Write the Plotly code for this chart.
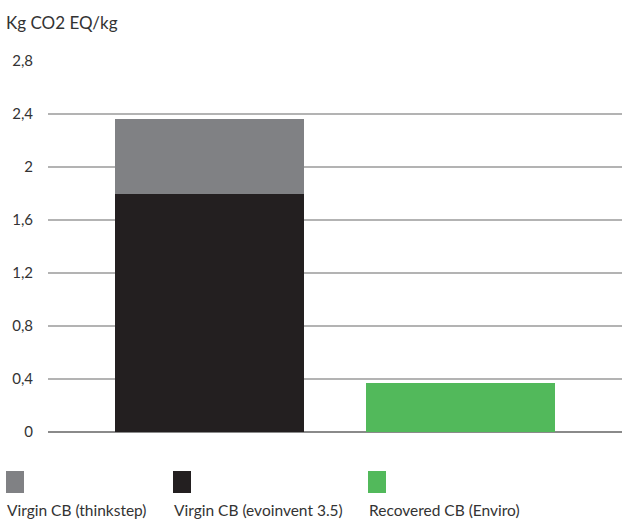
import plotly.graph_objects as go

categories = ["Virgin CB", "Recovered CB"]
series_names = ["Virgin CB (evoinvent 3.5)", "Virgin CB (thinkstep)", "Recovered CB (Enviro)"]
evoinvent = [1.80, None]
thinkstep = [0.562, None]
enviro = [None, 0.37]
colors = {"Virgin CB (thinkstep)": "#808184",
          "Virgin CB (evoinvent 3.5)": "#231f20",
          "Recovered CB (Enviro)": "#52b95b"}
tick_vals = [0, 0.4, 0.8, 1.2, 1.6, 2.0, 2.4, 2.8]
tick_text = ["0", "0,4", "0,8", "1,2", "1,6", "2", "2,4", "2,8"]
legend_order = ["Virgin CB (thinkstep)", "Virgin CB (evoinvent 3.5)", "Recovered CB (Enviro)"]
legend_px = [6, 173, 368]

W, H = 623, 519
ml, mr, mt, mb = 48, 1, 61, 87
pw, ph = W - ml - mr, H - mt - mb

def px_x(p):
    return (p - ml) / pw

def px_y(p):
    return (H - mb - p) / ph

fig = go.Figure()
for name, vals in [("Virgin CB (evoinvent 3.5)", evoinvent),
                   ("Virgin CB (thinkstep)", thinkstep),
                   ("Recovered CB (Enviro)", enviro)]:
    fig.add_trace(go.Bar(x=categories, y=vals, name=name,
                         marker=dict(color=colors[name], line=dict(width=0)),
                         width=0.753, showlegend=False))

font_family = "Lato, Noto Sans, sans-serif"
for name, p in zip(legend_order, legend_px):
    fig.add_shape(type="rect", xref="paper", yref="paper",
                  x0=px_x(p), x1=px_x(p + 18), y0=px_y(493), y1=px_y(471),
                  fillcolor=colors[name], line=dict(width=0))
    fig.add_annotation(text=name, xref="paper", yref="paper",
                       x=px_x(p - 1), y=px_y(510), xanchor="left", yanchor="middle",
                       showarrow=False, font=dict(size=15.5, color="#333333", family=font_family))

fig.add_annotation(text="Kg CO2 EQ/kg", xref="paper", yref="paper",
                   x=px_x(4), y=px_y(22), xanchor="left", yanchor="middle",
                   showarrow=False, font=dict(size=17, color="#333333", family=font_family))

fig.update_layout(
    width=W, height=H, barmode="stack",
    margin=dict(l=ml, r=mr, t=mt, b=mb),
    plot_bgcolor="white", paper_bgcolor="white",
    font=dict(family=font_family, size=15, color="#333333"),
    xaxis=dict(range=[-0.643, 1.643], showticklabels=False, showgrid=False,
               zeroline=False, showline=False, fixedrange=True),
    yaxis=dict(range=[0, 2.8], tickvals=tick_vals, ticktext=tick_text,
               showgrid=True, gridcolor="#b3b3b3", gridwidth=1.5,
               zeroline=True, zerolinecolor="#8a8a8a", zerolinewidth=1.5,
               showline=False, ticks="", ticklabelstandoff=14),
)

fig.write_html("out.html")
